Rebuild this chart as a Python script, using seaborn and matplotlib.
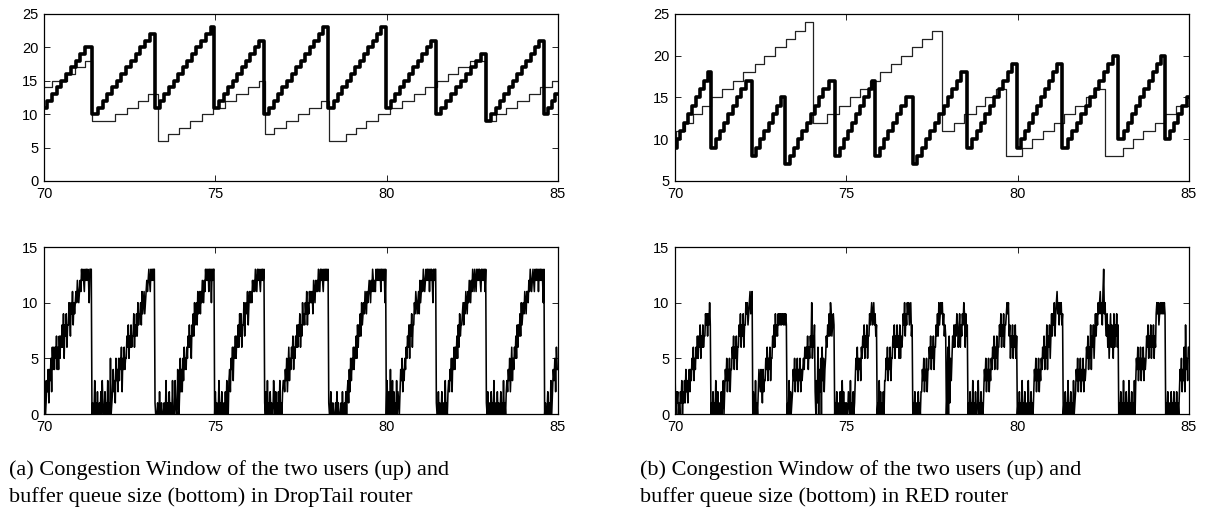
import numpy as np
import matplotlib
matplotlib.use("Agg")
import matplotlib.pyplot as plt
import seaborn as sns

# congestion window, DropTail router: (time of step, window after step)
dt_user1_t = [70.00, 70.10, 70.24, 70.38, 70.51, 70.65, 70.79, 70.93, 71.06, 71.20, 71.39,
              71.57, 71.71, 71.85, 71.98, 72.12, 72.26, 72.40, 72.54, 72.68, 72.81, 72.95, 73.09, 73.23,
              73.38, 73.51, 73.65, 73.78, 73.92, 74.05, 74.18, 74.32, 74.45, 74.59, 74.72, 74.86, 74.97,
              75.12, 75.25, 75.38, 75.51, 75.64, 75.77, 75.90, 76.02, 76.15, 76.28, 76.43,
              76.57, 76.70, 76.83, 76.96, 77.10, 77.23, 77.36, 77.49, 77.62, 77.75, 77.89, 78.02, 78.15, 78.30,
              78.46, 78.59, 78.71, 78.84, 78.96, 79.09, 79.21, 79.34, 79.46, 79.59, 79.71, 79.84, 79.98,
              80.12, 80.25, 80.38, 80.51, 80.64, 80.78, 80.91, 81.04, 81.17, 81.30, 81.44,
              81.60, 81.74, 81.89, 82.03, 82.17, 82.32, 82.46, 82.60, 82.75, 82.90,
              83.05, 83.18, 83.31, 83.43, 83.56, 83.69, 83.81, 83.94, 84.07, 84.20, 84.32, 84.45, 84.60,
              84.72, 84.82, 84.92, 85.00]
dt_user1_w = [11, 12, 13, 14, 15, 16, 17, 18, 19, 20, 10,
              11, 12, 13, 14, 15, 16, 17, 18, 19, 20, 21, 22, 11,
              12, 13, 14, 15, 16, 17, 18, 19, 20, 21, 22, 23, 11,
              12, 13, 14, 15, 16, 17, 18, 19, 20, 21, 10,
              11, 12, 13, 14, 15, 16, 17, 18, 19, 20, 21, 22, 23, 11,
              12, 13, 14, 15, 16, 17, 18, 19, 20, 21, 22, 23, 11,
              12, 13, 14, 15, 16, 17, 18, 19, 20, 21, 10,
              11, 12, 13, 14, 15, 16, 17, 18, 19, 9,
              10, 11, 12, 13, 14, 15, 16, 17, 18, 19, 20, 21, 10,
              11, 12, 13, 13]

dt_user2_t = [70.00, 70.22, 70.66, 70.90, 71.21, 71.39, 72.08, 72.41, 72.74, 73.04, 73.32,
              73.61, 73.94, 74.27, 74.60, 74.94, 75.28, 75.61, 75.94, 76.27, 76.45,
              76.72, 77.06, 77.40, 77.74, 78.08, 78.31, 78.80, 79.11, 79.41, 79.75,
              80.10, 80.44, 80.79, 81.13, 81.46, 81.78, 82.07, 82.42, 82.88,
              83.20, 83.48, 83.80, 84.14, 84.47, 84.82, 85.00]
dt_user2_w = [14, 15, 16, 17, 18, 9, 10, 11, 12, 13, 6,
              7, 8, 9, 10, 11, 12, 13, 14, 15, 7,
              8, 9, 10, 11, 12, 6, 7, 8, 9, 10,
              11, 12, 13, 14, 15, 16, 17, 18, 9,
              10, 11, 12, 13, 14, 15, 15]

# congestion window, RED router
red_user1_t = [70.00, 70.05, 70.16, 70.27, 70.38, 70.50, 70.61, 70.72, 70.84, 70.95, 71.04,
               71.20, 71.32, 71.44, 71.56, 71.68, 71.80, 71.92, 72.06, 72.24,
               72.37, 72.49, 72.61, 72.73, 72.85, 72.97, 73.09, 73.22,
               73.36, 73.48, 73.60, 73.72, 73.84, 73.96, 74.08, 74.20, 74.33, 74.48, 74.66,
               74.81, 74.92, 75.05, 75.17, 75.29, 75.41, 75.53, 75.65, 75.75, 75.85,
               75.99, 76.11, 76.23, 76.35, 76.47, 76.59, 76.74, 76.94,
               77.07, 77.20, 77.33, 77.45, 77.58, 77.71, 77.84, 77.97, 78.09, 78.22, 78.35, 78.51,
               78.67, 78.80, 78.93, 79.06, 79.19, 79.32, 79.45, 79.58, 79.71, 79.84, 79.98,
               80.09, 80.21, 80.33, 80.45, 80.57, 80.69, 80.80, 80.92, 81.04, 81.16, 81.29,
               81.46, 81.59, 81.72, 81.86, 81.99, 82.12, 82.25, 82.38, 82.52, 82.65, 82.78, 82.94,
               83.09, 83.21, 83.33, 83.45, 83.58, 83.70, 83.82, 83.94, 84.07, 84.19, 84.29,
               84.45, 84.57, 84.69, 84.81, 84.93, 85.00]
red_user1_w = [9, 10, 11, 12, 13, 14, 15, 16, 17, 18, 9,
               10, 11, 12, 13, 14, 15, 16, 17, 8,
               9, 10, 11, 12, 13, 14, 15, 7,
               8, 9, 10, 11, 12, 13, 14, 15, 16, 17, 8,
               9, 10, 11, 12, 13, 14, 15, 16, 17, 8,
               9, 10, 11, 12, 13, 14, 15, 7,
               8, 9, 10, 11, 12, 13, 14, 15, 16, 17, 18, 9,
               10, 11, 12, 13, 14, 15, 16, 17, 18, 19, 9,
               10, 11, 12, 13, 14, 15, 16, 17, 18, 19, 9,
               10, 11, 12, 13, 14, 15, 16, 17, 18, 19, 20, 10,
               11, 12, 13, 14, 15, 16, 17, 18, 19, 20, 10,
               11, 12, 13, 14, 15, 15]

red_user2_t = [70.00, 70.03, 70.30, 70.52, 70.78, 71.05, 71.36, 71.68, 71.99, 72.34, 72.61,
               72.92, 73.24, 73.51, 73.80, 74.03, 74.44, 74.78, 75.10, 75.41, 75.70,
               75.99, 76.30, 76.60, 76.92, 77.21, 77.50, 77.79, 78.13, 78.43, 78.77,
               79.06, 79.36, 79.67, 80.14, 80.43, 80.74, 81.06, 81.36, 81.68, 81.99,
               82.29, 82.56, 83.07, 83.36, 83.67, 84.00, 84.29, 84.63, 85.00]
red_user2_w = [10, 11, 12, 13, 14, 15, 16, 17, 18, 19, 20,
               21, 22, 23, 24, 12, 13, 14, 15, 16, 17,
               18, 19, 20, 21, 22, 23, 11, 12, 13, 14,
               15, 16, 8, 9, 10, 11, 12, 13, 14, 15,
               16, 8, 9, 10, 11, 12, 13, 14, 14]

# buffer queue size, one hex digit per sample, between the loss instants
dt_queue_bounds = [70.00, 71.40, 73.24, 74.98, 76.44, 78.31, 79.99, 81.45, 82.91, 84.61, 85.00]
dt_queue = [
    "030132414352646465746475768695879688a97a9b8a9abacbabcbdcdcbdcdcdcaddd",
    "010030102001020310020103010501242315342535462546455768576867796879" "7a899a8b9ab9abcbcdcbdcdcdd",
    "1000100200100010030100201003000310041025242536454657686758797a89a8b9ab9bacbacbdcdcdbdcdadcdd",
    "0201003010200102031034254636575768697968" "8a79a9b8ababacbcbdcbdcdcbdcdcd",
    "10203010201003102010203010233243524635465746576868796" "87a898a9b8a9babab9cbacbcbdcbdcdcbdcdcdcd",
    "1002001000102010001020010202314253546465758687" "97a89a9ba9babcbacbdcbcbdcdcdcdbdcdcdad",
    "031020401302010302102435243546576858796" "88a9ba9ab9cabcbdcbcdcdcdbdcdcadcdd",
    "100201002010030102324352546465758697889a8a9ba9bacbacbdcbdcbdcdcdcbdcdcdbd",
    "102010020103001020100201030102324352463546575868797a89a9ba9bbacbdcbcdcbdcdcdbdcdcdcad",
    "01002010302435264",
]

red_queue_bounds = [70.00, 71.05, 72.27, 73.27, 74.09, 74.66, 75.90, 76.94, 77.92, 78.55,
                    79.99, 81.33, 82.95, 84.32, 85.00]
red_queue = [
    "40212010213021314231342435463546575768576867798979 8a8",
    "0102010310200102013024352435244657465746687968796 88a9a89ab9ab",
    "02103010243243142335463546355768697879898989989898",
    "01030201243524352435243454656574657 6a5768",
    "2031604250635245768797a97898",
    "01020100201302010100210301020135463545365768576857798 9a89a8978",
    "0103020102033546354635576857686758576798a798a9a89a78",
    "01020100201022435243524465746574668797a89a9a89787",
    "0260715357686879867968798a96978",
    "0102010301020013010201024352435243546574657466879687968" "89a9a785768576857",
    "0102010301020010301020102435243524354657465847685797" "98a79ab9a8a9a89",
    "010201030102010301243524352435243465746584768579798a9ab9a8bd9a879685796875968796 8",
    "0102010301020103010201030354635463546354576857685768576" "9a9a89a9a9a9a9",
    "0102010020102010201024352436284536",
]


def step_line(ax, t, w, lw, color):
    sns.lineplot(x=t, y=w, ax=ax, color=color, linewidth=lw,
                 drawstyle="steps-post", estimator=None, sort=False)


def queue_line(ax, bounds, segments):
    t_all, q_all = [], []
    for i, seg in enumerate(segments):
        vals = [int(c, 16) for c in seg.replace(" ", "")]
        n = len(vals)
        t_all += list(np.linspace(bounds[i], bounds[i + 1], n, endpoint=False))
        q_all += vals
    t_all.append(bounds[-1])
    q_all.append(q_all[-1])
    sns.lineplot(x=t_all, y=q_all, ax=ax, color="black", linewidth=1.15,
                 estimator=None, sort=False)


sns.set_theme(style="ticks")
plt.rcParams["font.family"] = ["Liberation Sans", "DejaVu Sans"]

fig = plt.figure(figsize=(12.05, 5.11), dpi=100)

W, H = 1205.0, 511.0
ax_w = 514 / W
ax_h = 167 / H
ax_tl = fig.add_axes([44 / W, 1 - 181 / H, ax_w, ax_h])
ax_tr = fig.add_axes([675 / W, 1 - 181 / H, ax_w, ax_h])
ax_bl = fig.add_axes([44 / W, 1 - 414 / H, ax_w, ax_h])
ax_br = fig.add_axes([675 / W, 1 - 414 / H, ax_w, ax_h])

step_line(ax_tl, dt_user2_t, dt_user2_w, 0.9, "#222222")
step_line(ax_tl, dt_user1_t, dt_user1_w, 2.6, "black")
step_line(ax_tr, red_user2_t, red_user2_w, 0.9, "#222222")
step_line(ax_tr, red_user1_t, red_user1_w, 2.6, "black")
queue_line(ax_bl, dt_queue_bounds, dt_queue)
queue_line(ax_br, red_queue_bounds, red_queue)

for ax in [ax_tl, ax_tr, ax_bl, ax_br]:
    ax.set_xlim(70, 85)
    ax.set_xticks([70, 75, 80, 85])
    ax.set_xlabel("")
    ax.set_ylabel("")
    ax.tick_params(direction="in", top=True, right=True, length=4, width=0.6,
                   labelsize=10.5, pad=4, colors="black")
    for sp in ax.spines.values():
        sp.set_visible(True)
        sp.set_linewidth(0.9)
        sp.set_color("black")

ax_tl.set_ylim(0, 25)
ax_tl.set_yticks([0, 5, 10, 15, 20, 25])
ax_tr.set_ylim(5, 25)
ax_tr.set_yticks([5, 10, 15, 20, 25])
for ax in [ax_bl, ax_br]:
    ax.set_ylim(0, 15)
    ax.set_yticks([0, 5, 10, 15])

serif = ["Liberation Serif", "DejaVu Serif"]
captions = [
    (9, "(a) Congestion Window of the two users (up) and",
     "buffer queue size (bottom) in DropTail router"),
    (640, "(b) Congestion Window of the two users (up) and",
     "buffer queue size (bottom) in RED router"),
]
for x0, line1, line2 in captions:
    fig.text(x0 / W, 1 - 475 / H, line1, family=serif, fontsize=16,
             va="baseline", color="black")
    fig.text(x0 / W, 1 - 502 / H, line2, family=serif, fontsize=16,
             va="baseline", color="black")

fig.savefig("out.png", dpi=100)
